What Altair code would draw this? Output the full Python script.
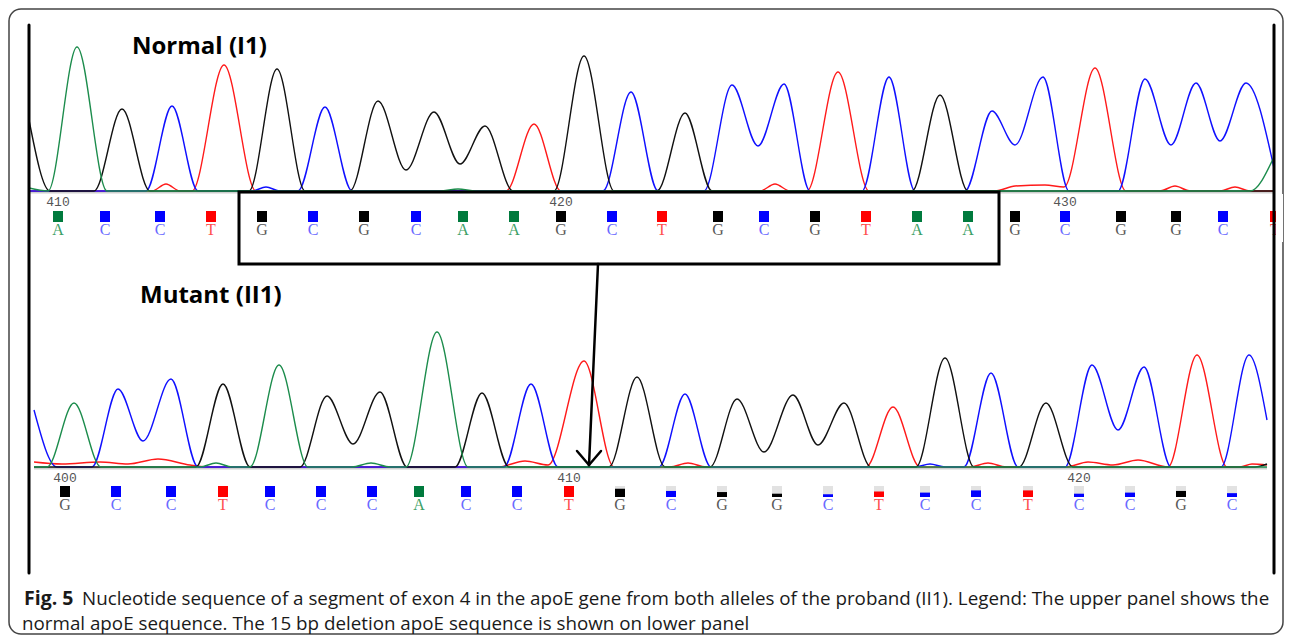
import altair as alt
import pandas as pd

# ---------------- DATA ----------------
# Upper panel, normal allele (I1): trace key points, scan position vs. signal (RFU)
TOP_A_SCAN = [29, 48, 77, 107, 440, 458, 476, 1250, 1274]
TOP_A_RFU = [30, 0, 1440, 0, 0, 20, 0, 0, 340]
TOP_C_SCAN = [29, 146, 172, 198, 252, 266, 280, 298, 325, 352, 603, 631, 658, 704, 732, 758, 784, 810,
              862, 889, 915, 965, 992, 1015, 1043, 1069, 1118, 1145, 1171, 1196, 1220, 1246, 1274]
TOP_C_RFU = [0, 0, 850, 0, 0, 40, 0, 0, 840, 0, 0, 990, 0, 0, 1060, 450, 1070, 0,
             0, 1140, 0, 0, 800, 460, 1140, 0, 0, 1120, 460, 1080, 500, 1080, 230]
TOP_G_SCAN = [29, 50, 94, 122, 150, 249, 277, 305, 350, 378, 406, 434, 460, 485, 513, 554, 584, 614,
              657, 685, 712, 912, 940, 968, 1274]
TOP_G_RFU = [710, 0, 0, 820, 0, 0, 1220, 0, 0, 900, 210, 790, 270, 650, 0, 0, 1350, 0,
             0, 780, 0, 0, 960, 0, 0]
TOP_T_SCAN = [29, 152, 166, 180, 192, 224, 256, 506, 534, 561, 760, 775, 790, 807, 838, 869, 995, 1015,
              1045, 1064, 1095, 1126, 1160, 1175, 1190, 1220, 1235, 1250, 1274]
TOP_T_RFU = [0, 0, 70, 0, 0, 1260, 0, 0, 670, 0, 0, 70, 0, 0, 1190, 0, 0, 50,
             60, 40, 1230, 0, 0, 50, 0, 0, 40, 0, 0]

TOP_CALLS = list("ACCTGCGCAAGCTGCGTAAGCGGCT")
TOP_CALL_SCAN = [58, 105, 160, 211, 262, 313, 364, 416, 463, 514, 561, 612, 662, 718, 764, 815, 866,
                 917, 968, 1015, 1065, 1121, 1176, 1223, 1275]
TOP_FIRST_POS = 410
DELETION_BOX_SCAN = [239, 999]   # boxed 15 bp segment in the normal sequence

# Lower panel, mutant allele (II1)
BOT_A_SCAN = [34, 47, 74, 101, 200, 216, 232, 250, 279, 308, 352, 371, 390, 406, 437, 468, 1267]
BOT_A_RFU = [0, 0, 640, 0, 0, 40, 0, 0, 1020, 0, 0, 40, 0, 0, 1350, 0, 0]
BOT_C_SCAN = [34, 57, 92, 118, 143, 171, 198, 504, 531, 558, 659, 685, 711, 915, 930, 945, 964, 991,
              1018, 1065, 1092, 1118, 1144, 1171, 1221, 1249, 1267]
BOT_C_RFU = [570, 0, 0, 780, 260, 880, 0, 0, 830, 0, 0, 730, 0, 0, 30, 0, 0, 940,
             0, 0, 1020, 370, 1000, 0, 0, 1120, 470]
BOT_G_SCAN = [34, 196, 223, 250, 300, 327, 353, 380, 407, 455, 482, 509, 609, 637, 665, 710, 737, 764,
              793, 818, 844, 871, 916, 945, 974, 1019, 1046, 1073, 1255, 1267]
BOT_G_RFU = [0, 0, 830, 0, 0, 710, 230, 750, 0, 0, 740, 0, 0, 900, 0, 0, 680, 150,
             720, 220, 640, 0, 0, 1090, 0, 0, 640, 0, 0, 30]
BOT_T_SCAN = [34, 62, 100, 128, 158, 190, 210, 498, 525, 548, 584, 614, 670, 688, 706, 866, 893, 920,
              970, 988, 1006, 1066, 1088, 1113, 1138, 1168, 1197, 1227, 1240, 1252, 1267]
BOT_T_RFU = [50, 30, 50, 30, 80, 20, 0, 0, 60, 20, 1060, 0, 0, 40, 0, 0, 600, 0,
             0, 40, 0, 0, 50, 20, 70, 0, 1120, 0, 0, 30, 20]

BOT_CALLS = list("GCCTCCCACCTGCGGCTCCTCCGC")
BOT_CALL_SCAN = [65, 116, 171, 223, 270, 321, 372, 419, 466, 517, 569, 620, 671, 722, 777, 828, 879,
                 925, 976, 1028, 1079, 1130, 1181, 1232]
BOT_CALL_QV = [1, 1, 1, 1, 1, 1, 1, 1, 1, 1, 1, 0.75, 0.55, 0.45, 0.3, 0.25, 0.5, 0.4, 0.6, 0.6,
               0.3, 0.4, 0.55, 0.35]
BOT_FIRST_POS = 400

TITLE_TOP = "Normal (I1)"
TITLE_BOT = "Mutant (II1)"
CAPTION_BOLD = "Fig. 5"
CAPTION_L1 = ("Nucleotide sequence of a segment of exon 4 in the apoE gene from both alleles of the "
              "proband (II1). Legend: The upper panel shows the")
CAPTION_L2 = "normal apoE sequence. The 15 bp deletion apoE sequence is shown on lower panel"

# ---------------- STYLE / LAYOUT ----------------
W, H = 1276, 627
TRACE_COL = {"A": "#1c8c4c", "C": "#1010ff", "G": "#111111", "T": "#ff1a1a"}
SQ_COL = {"A": "#007a3d", "C": "#0000ff", "G": "#000000", "T": "#ff0000"}
TXT_COL = {"A": "#3d9f66", "C": "#6a6aff", "G": "#5a5a5a", "T": "#ff5050"}
XS = alt.Scale(domain=[8, 8 + W], zero=False, nice=False)
YS_TOP = alt.Scale(domain=[(191 - 635) * 10, (191 - 8) * 10], zero=False, nice=False)
YS_BOT = alt.Scale(domain=[(467 - 635) * 10, (467 - 8) * 10], zero=False, nice=False)


def trace_layers(channels, yscale, span):
    layers = [
        alt.Chart(alt.Data(values=[{"a": span[0], "b": span[1]}])).mark_rule(
            color="#cfcfcf", strokeWidth=2.5
        ).encode(x=alt.X("a:Q", scale=XS, axis=None), x2="b:Q",
                 y=alt.datum(-12, scale=yscale, axis=None))
    ]
    for base in ["T", "C", "G", "A"]:
        sx, sy = channels[base]
        df = pd.DataFrame({"scan": sx, "rfu": sy})
        layers.append(
            alt.Chart(df).mark_line(color=TRACE_COL[base], strokeWidth=1.4, interpolate="monotone")
            .encode(x=alt.X("scan:Q", scale=XS, axis=None),
                    y=alt.Y("rfu:Q", scale=yscale, axis=None))
        )
    return layers


def call_layers(calls, scans, qv, first_pos, yscale, rows):
    df = pd.DataFrame({"base": calls, "scan": scans, "qv": qv})
    df["sq"] = df["base"].map(SQ_COL)
    df["tc"] = df["base"].map(TXT_COL)
    df["pos"] = [first_pos + i for i in range(len(calls))]
    df["lab"] = df["pos"].astype(str)
    lab_df = df[df["pos"] % 10 == 0]
    sq_top, sq_bot, let_y, lab_y = rows
    bg = alt.Chart(df[df["qv"] < 1]).transform_calculate(
        x0="datum.scan - 5", x1="datum.scan + 5"
    ).mark_rect(color="#e2e2e2").encode(
        x=alt.X("x0:Q", scale=XS, axis=None), x2="x1:Q",
        y=alt.datum(sq_top, scale=yscale, axis=None), y2=alt.datum(sq_bot))
    sq = alt.Chart(df).transform_calculate(
        x0="datum.scan - 5", x1="datum.scan + 5",
        ytop=f"{sq_bot} + datum.qv * {sq_top - sq_bot}"
    ).mark_rect().encode(
        x=alt.X("x0:Q", scale=XS, axis=None), x2="x1:Q",
        y=alt.Y("ytop:Q", scale=yscale, axis=None), y2=alt.datum(sq_bot),
        color=alt.Color("sq:N", scale=None))
    letters = alt.Chart(df).mark_text(font="Liberation Serif", fontSize=16, baseline="middle").encode(
        x=alt.X("scan:Q", scale=XS, axis=None),
        y=alt.datum(let_y, scale=yscale, axis=None),
        text="base:N", color=alt.Color("tc:N", scale=None))
    labels = alt.Chart(lab_df).mark_text(font="Liberation Mono", fontSize=13, color="#555555",
                                         baseline="middle").encode(
        x=alt.X("scan:Q", scale=XS, axis=None),
        y=alt.datum(lab_y, scale=yscale, axis=None), text="lab:N")
    return [bg, sq, letters, labels]


top_channels = {"A": (TOP_A_SCAN, TOP_A_RFU), "C": (TOP_C_SCAN, TOP_C_RFU),
                "G": (TOP_G_SCAN, TOP_G_RFU), "T": (TOP_T_SCAN, TOP_T_RFU)}
bot_channels = {"A": (BOT_A_SCAN, BOT_A_RFU), "C": (BOT_C_SCAN, BOT_C_RFU),
                "G": (BOT_G_SCAN, BOT_G_RFU), "T": (BOT_T_SCAN, BOT_T_RFU)}

box = alt.Chart(alt.Data(values=[{"a": DELETION_BOX_SCAN[0], "b": DELETION_BOX_SCAN[1]}])).mark_rect(
    fillOpacity=0, stroke="black", strokeWidth=3
).encode(x=alt.X("a:Q", scale=XS, axis=None), x2="b:Q",
         y=alt.value(184), y2=alt.value(256))

top = alt.layer(
    *trace_layers(top_channels, YS_TOP, (29, 1274)),
    *call_layers(TOP_CALLS, TOP_CALL_SCAN, [1] * len(TOP_CALLS), TOP_FIRST_POS, YS_TOP,
                 (-200, -310, -390, -110)),
    box,
)
bottom = alt.layer(
    *trace_layers(bot_channels, YS_BOT, (34, 1267)),
    *call_layers(BOT_CALLS, BOT_CALL_SCAN, BOT_CALL_QV, BOT_FIRST_POS, YS_BOT,
                 (-190, -300, -380, -110)),
)

one = alt.Data(values=[{}])


def rule(x1, y1, x2, y2, w=3, color="black"):
    return alt.Chart(one).mark_rule(color=color, strokeWidth=w, strokeCap="round").encode(
        x=alt.value(x1), y=alt.value(y1), x2=alt.value(x2), y2=alt.value(y2))


def text(t, x, y, size, weight="normal", font="Open Sans", color="black"):
    return alt.Chart(one).mark_text(text=t, font=font, fontSize=size, fontWeight=weight,
                                    color=color, align="left", baseline="middle").encode(
        x=alt.value(x), y=alt.value(y))


deco = alt.layer(
    alt.Chart(one).mark_rect(fillOpacity=0, stroke="#444444", strokeWidth=1.5, cornerRadius=12).encode(
        x=alt.value(1), y=alt.value(1), x2=alt.value(W - 1), y2=alt.value(H - 1)),
    alt.Chart(one).mark_rect(color="white").encode(
        x=alt.value(1268), x2=alt.value(1275), y=alt.value(186), y2=alt.value(234)),
    rule(21, 17, 21, 565),
    rule(1266, 17, 1266, 565),
    rule(590, 256, 581, 457, w=2.5),
    rule(569, 443, 581, 457, w=2.5),
    rule(593, 443, 581, 457, w=2.5),
    text(TITLE_TOP, 124, 39, 24, "bold"),
    text(TITLE_BOT, 132, 288, 24, "bold"),
    text(CAPTION_BOLD, 16, 591, 19.5, "bold", color="#1a1a1a"),
    text(CAPTION_L1, 74, 591, 18.8, color="#1a1a1a"),
    text(CAPTION_L2, 14, 616, 18.8, color="#1a1a1a"),
)

chart = alt.layer(top, bottom, deco).resolve_scale(x="independent", y="independent").properties(
    width=W, height=H, padding=0, autosize=alt.AutoSizeParams(type="none"), background="white"
).configure_view(stroke=None)

chart.save("out.html", embed_options={"renderer": "svg", "actions": False})
